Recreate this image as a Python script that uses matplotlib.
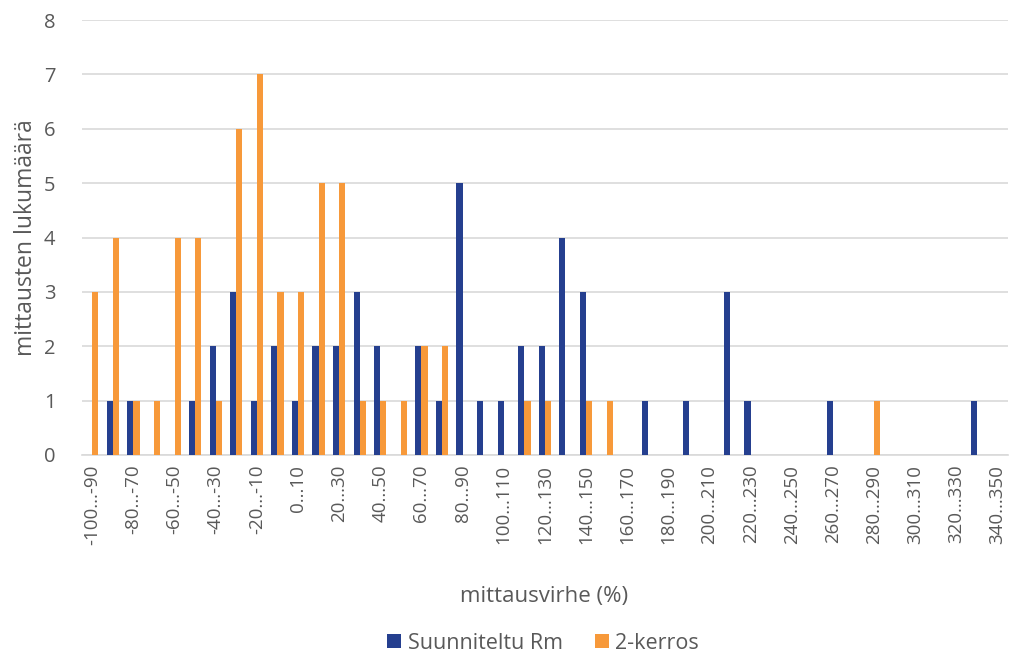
import matplotlib
matplotlib.use("Agg")
import matplotlib.pyplot as plt
import numpy as np

# Error bins of 10 % from -100 to 350
bin_starts = list(range(-100, 350, 10))
categories = [f"{s}...{s + 10}" for s in bin_starts]

suunniteltu_rm = [0, 1, 1, 0, 0, 1, 2, 3, 1, 2,
                  1, 2, 2, 3, 2, 0, 2, 1, 5, 1,
                  1, 2, 2, 4, 3, 0, 0, 1, 0, 1,
                  0, 3, 1, 0, 0, 0, 1, 0, 0, 0,
                  0, 0, 0, 1, 0]
kaksi_kerros = [3, 4, 1, 1, 4, 4, 1, 6, 7, 3,
                3, 5, 5, 1, 1, 1, 2, 2, 0, 0,
                0, 1, 1, 0, 1, 1, 0, 0, 0, 0,
                0, 0, 0, 0, 0, 0, 0, 0, 1, 0,
                0, 0, 0, 0, 0]
series_names = ["Suunniteltu Rm", "2-kerros"]
y_ticks = list(range(0, 9))

blue = "#253F8F"
orange = "#F7993A"
grey_text = "#595959"
grid_grey = "#D9D9D9"
font = "Open Sans"

fig = plt.figure(figsize=(10.17, 6.57), dpi=100)
ax = fig.add_axes([0.0806, 0.3075, 0.9104, 0.662])

x = np.arange(len(categories))
w = 0.3
ax.bar(x - w / 2, suunniteltu_rm, width=w, color=blue, label=series_names[0], zorder=3)
ax.bar(x + w / 2, kaksi_kerros, width=w, color=orange, label=series_names[1], zorder=3)

ax.set_xlim(-0.5, len(categories) - 0.5)
ax.set_ylim(0, 8)
ax.set_yticks(y_ticks)
ax.set_yticklabels([str(t) for t in y_ticks], fontsize=14.5, color=grey_text, family=font)
ax.set_xticks(x[::2])
ax.set_xticklabels(categories[::2], rotation=90, fontsize=13.5, color=grey_text, family=font)
ax.tick_params(axis="x", length=0, pad=7)
ax.tick_params(axis="y", length=0, pad=19)

ax.grid(axis="y", color=grid_grey, linewidth=1.2, zorder=0)
for side in ["top", "right", "left"]:
    ax.spines[side].set_visible(False)
ax.spines["bottom"].set_color(grid_grey)
ax.spines["bottom"].set_linewidth(1.2)

fig.text(0.026, 0.6385, "mittausten lukumäärä", rotation=90, ha="center", va="center",
         fontsize=16.5, color=grey_text, family=font)
fig.text(0.535, 0.092, "mittausvirhe (%)", ha="center", va="center",
         fontsize=16, color=grey_text, family=font)

leg = fig.legend(loc="center", bbox_to_anchor=(0.534, 0.021), ncol=2, frameon=False,
                 handlelength=0.65, handleheight=0.65, handletextpad=0.3,
                 columnspacing=1.5, prop={"family": font, "size": 15.5})
for t in leg.get_texts():
    t.set_color(grey_text)

fig.savefig("out.png", dpi=100, facecolor="white")
